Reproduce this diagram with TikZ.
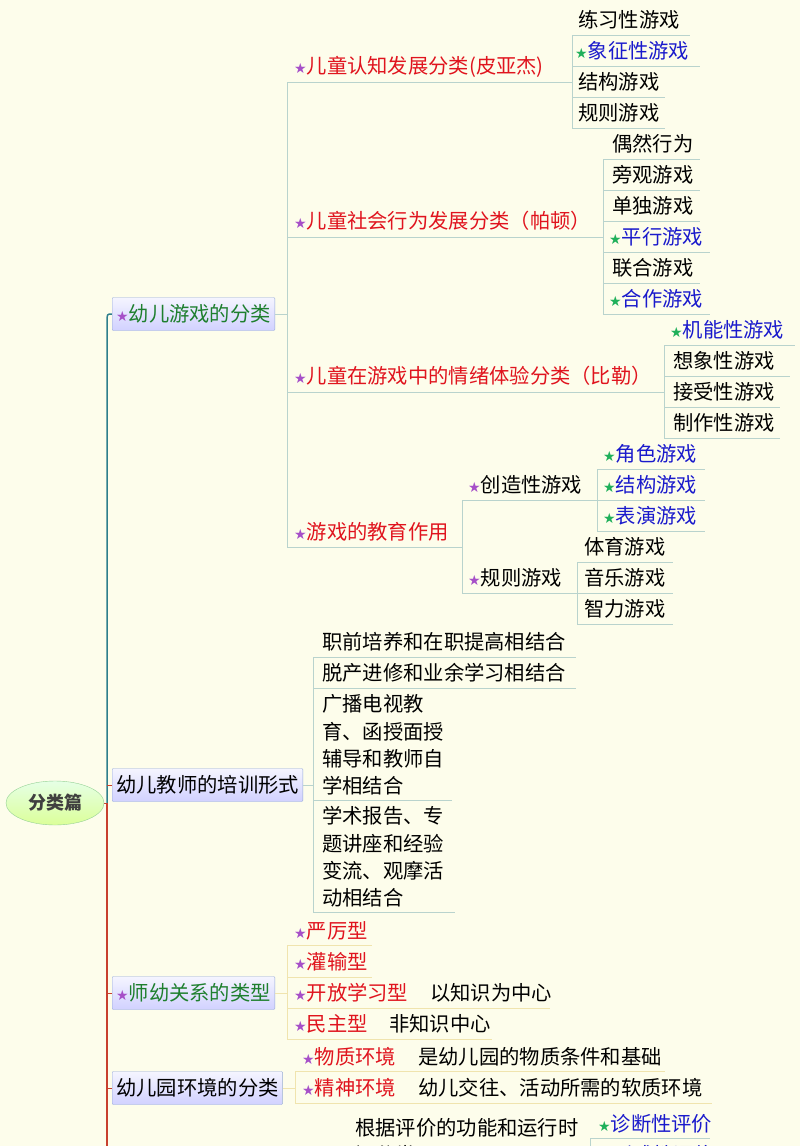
\documentclass[tikz,border=0pt]{standalone}
\usepackage{fontspec}
\setmainfont{Noto Sans CJK SC}
\newfontfamily\symf{DejaVu Sans}
\usetikzlibrary{shapes.geometric}
\definecolor{bg}{HTML}{FDFDEB}
\definecolor{pst}{HTML}{A64FC8}
\definecolor{gst}{HTML}{1FB05A}
\definecolor{rt}{HTML}{E0141E}
\definecolor{bt}{HTML}{1A1ACC}
\definecolor{gt}{HTML}{1E7F2E}
\definecolor{ln}{HTML}{B9D3CD}
\definecolor{yl}{HTML}{F0E4AE}
\definecolor{teal}{HTML}{2E7F8C}
\definecolor{spr}{HTML}{C8402E}
\newcommand\ps{{\symf\fontsize{14}{14}\selectfont\textcolor{pst}{★}}}
\newcommand\gs{{\symf\fontsize{14}{14}\selectfont\textcolor{gst}{★}}}
\tikzset{
 t/.style={anchor=west,inner sep=0pt,font=\fontsize{20.3}{27.3}\selectfont},
 ml/.style={t,align=left},
 l1/.style={anchor=west,inner xsep=4pt,minimum height=33pt,rounded corners=1pt,draw=ln!80!blue,top color=blue!4,bottom color=blue!18,font=\fontsize{20.3}{24}\selectfont},
 ul/.style={ln,line width=0.8pt},
 uy/.style={yl,line width=0.8pt},
}
\begin{document}
\begin{tikzpicture}[x=1pt,y=-1pt]
\fill[bg] (0,0) rectangle (800,1146);
\useasboundingbox (0,0) rectangle (800,1146);
% spine
\draw[teal,line width=1.5pt] (112,314) .. controls (107,314) .. (107,322) -- (107,803);
\draw[spr,line width=1.5pt] (107,803) -- (107,1146);
\draw[spr,line width=1pt] (103,803) -- (107,803);
\foreach \y in {785,993,1088}{\draw[spr,line width=1pt] (107,\y) -- (112,\y);}
\node[ellipse,minimum width=98pt,minimum height=44pt,draw=green!40!gray!60,top color=green!10,bottom color=green!35!yellow!40,font=\fontsize{18}{20}\selectfont\bfseries,text=black!75] (root) at (55,803) {分类篇};
% level1 boxes
\node[l1] (g) at (112,314) {\ps\textcolor{gt}{幼儿游戏的分类}};
\node[l1] (tr) at (112,785) {幼儿教师的培训形式};
\node[l1] (sy) at (112,993) {\ps\textcolor{gt}{师幼关系的类型}};
\node[l1] (hj) at (112,1088) {幼儿园环境的分类};
% group 1
\draw[ul] (g.east) -- (287,314);
\draw[ul] (287,82) -- (287,547);
\draw[ul] (287,82) -- (572,82);
\node[t] (a1) at (294,67) {\ps\textcolor{rt}{儿童认知发展分类(皮亚杰)}};
\draw[ul] (572,35) -- (572,128);
\node[t] at (578,20) {练习性游戏}; \draw[ul] (572,35) -- (690,35);
\node[t] at (575,51) {\gs\textcolor{bt}{象征性游戏}}; \draw[ul] (572,66) -- (700,66);
\node[t] at (578,82) {结构游戏}; \draw[ul] (572,97) -- (665,97);
\node[t] at (578,113) {规则游戏}; \draw[ul] (572,128) -- (665,128);
\draw[ul] (287,237) -- (603,237);
\node[t] (a2) at (294,221) {\ps\textcolor{rt}{儿童社会行为发展分类（帕顿）}};
\draw[ul] (603,159) -- (603,314);
\node[t] at (612,144) {偶然行为}; \draw[ul] (603,159) -- (700,159);
\node[t] at (612,175) {旁观游戏}; \draw[ul] (603,190) -- (700,190);
\node[t] at (612,206) {单独游戏}; \draw[ul] (603,221) -- (700,221);
\node[t] at (609,237) {\gs\textcolor{bt}{平行游戏}}; \draw[ul] (603,252) -- (710,252);
\node[t] at (612,268) {联合游戏}; \draw[ul] (603,283) -- (700,283);
\node[t] at (609,299) {\gs\textcolor{bt}{合作游戏}}; \draw[ul] (603,314) -- (710,314);
\draw[ul] (287,392) -- (664,392);
\node[t] (a3) at (294,376) {\ps\textcolor{rt}{儿童在游戏中的情绪体验分类（比勒）}};
\draw[ul] (664,345) -- (664,438);
\node[t] at (670,330) {\gs\textcolor{bt}{机能性游戏}}; \draw[ul] (664,345) -- (795,345);
\node[t] at (673,361) {想象性游戏}; \draw[ul] (664,376) -- (790,376);
\node[t] at (673,392) {接受性游戏}; \draw[ul] (664,407) -- (780,407);
\node[t] at (673,423) {制作性游戏}; \draw[ul] (664,438) -- (780,438);
\draw[ul] (287,547) -- (462,547);
\node[t] (a4) at (294,532) {\ps\textcolor{rt}{游戏的教育作用}};
\draw[ul] (462,500) -- (462,593);
\draw[ul] (462,500) -- (597,500);
\node[t] (b1) at (468,485) {\ps 创造性游戏};
\draw[ul] (597,469) -- (597,531);
\node[t] at (603,454) {\gs\textcolor{bt}{角色游戏}}; \draw[ul] (597,469) -- (705,469);
\node[t] at (603,485) {\gs\textcolor{bt}{结构游戏}}; \draw[ul] (597,500) -- (705,500);
\node[t] at (603,516) {\gs\textcolor{bt}{表演游戏}}; \draw[ul] (597,531) -- (705,531);
\draw[ul] (462,593) -- (577,593);
\node[t] (b2) at (468,578) {\ps 规则游戏};
\draw[ul] (577,562) -- (577,624);
\node[t] at (584,547) {体育游戏}; \draw[ul] (577,562) -- (673,562);
\node[t] at (584,578) {音乐游戏}; \draw[ul] (577,593) -- (673,593);
\node[t] at (584,609) {智力游戏}; \draw[ul] (577,624) -- (673,624);
% group 2
\draw[ul] (tr.east) -- (313,785);
\draw[ul] (313,657) -- (313,912);
\node[t] at (322,642) {职前培养和在职提高相结合}; \draw[ul] (313,657) -- (576,657);
\node[t] at (322,673) {脱产进修和业余学习相结合}; \draw[ul] (313,688) -- (576,688);
\node[ml] at (322,745) {广播电视教\\育、函授面授\\辅导和教师自\\学相结合}; \draw[ul] (313,800) -- (452,800);
\node[ml] at (322,857) {学术报告、专\\题讲座和经验\\变流、观摩活\\动相结合}; \draw[ul] (313,912) -- (455,912);
% group 3
\draw[uy] (sy.east) -- (287,993);
\draw[uy] (287,945) -- (287,1039);
\node[t] at (294,931) {\ps\textcolor{rt}{严厉型}}; \draw[uy] (287,945) -- (372,945);
\node[t] at (294,962) {\ps\textcolor{rt}{灌输型}}; \draw[uy] (287,977) -- (372,977);
\node[t] at (294,993) {\ps\textcolor{rt}{开放学习型}}; \draw[uy] (287,1008) -- (550,1008);
\node[t] at (430,993) {以知识为中心};
\node[t] at (294,1024) {\ps\textcolor{rt}{民主型}}; \draw[uy] (287,1039) -- (492,1039);
\node[t] at (389,1024) {非知识中心};
% group 4
\draw[uy] (hj.east) -- (295,1088);
\draw[uy] (295,1071) -- (295,1103);
\node[t] at (302,1057) {\ps\textcolor{rt}{物质环境}}; \draw[uy] (295,1071) -- (665,1071);
\node[t] at (418,1057) {是幼儿园的物质条件和基础};
\node[t] at (302,1088) {\ps\textcolor{rt}{精神环境}}; \draw[uy] (295,1103) -- (712,1103);
\node[t] at (418,1088) {幼儿交往、活动所需的软质环境};
% group 5 (cut)
\node[ml] at (355,1141) {根据评价的功能和运行时\\间分类};
\draw[ul] (590,1138) -- (710,1138);
\draw[ul] (590,1138) -- (590,1146);
\node[t] at (598,1124) {\gs\textcolor{bt}{诊断性评价}};
\node[t] at (600,1155) {\gs\textcolor{bt}{形成性评价}};
\end{tikzpicture}
\end{document}
